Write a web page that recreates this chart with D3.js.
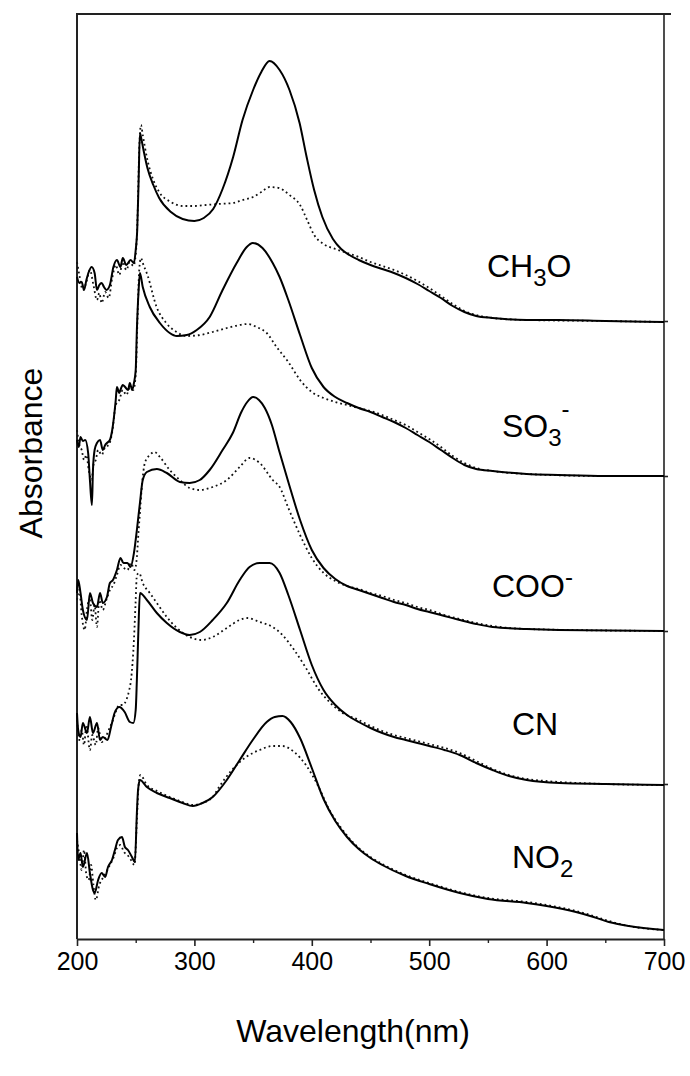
<!DOCTYPE html>
<html>
<head>
<meta charset="utf-8">
<script src="https://cdnjs.cloudflare.com/ajax/libs/d3/7.8.5/d3.min.js"></script>
<style>
  body { margin: 0; background: #fff; }
  svg { font-family: "Liberation Sans", Arial, sans-serif; }
  .tick text { font-size: 25px; fill: #000; }
</style>
</head>
<body>
<svg></svg>
<script>
//Data (wavelength nm, offset absorbance)
const xTicks = [200, 300, 400, 500, 600, 700];
const xMinorTicks = [250, 350, 450, 550, 650];
const baselines = [6.18, 4.63, 3.08, 1.55];

const ch3oSolid = [[200,6.62],[202,6.56],[204,6.57],[206,6.49],[208,6.59],[210,6.67],[212.5,6.72],[215,6.66],[217,6.49],[219,6.54],[221,6.56],[223,6.52],[225,6.49],[228,6.54],[231,6.72],[234,6.79],[237,6.72],[239,6.81],[242,6.74],[245.6,6.79],[248.5,6.76],[250,6.89],[251.3,7.09],[252.5,7.59],[253.6,8.06],[255,7.99],[257,7.87],[260,7.71],[265,7.54],[270,7.41],[280,7.27],[290,7.20],[300,7.18],[308,7.21],[316,7.30],[324,7.50],[333,7.82],[341,8.19],[350,8.49],[357,8.67],[364,8.78],[372.6,8.69],[381,8.49],[389.6,8.16],[395.6,7.82],[402,7.49],[409,7.22],[418,7.00],[425,6.90],[432,6.84],[440,6.79],[450,6.74],[460,6.70],[470,6.66],[480,6.61],[490,6.55],[500,6.48],[510,6.41],[520,6.33],[530,6.27],[540,6.23],[554,6.21],[583,6.19],[610,6.19],[650,6.18],[700,6.17]];
const ch3oDotted = [[200,6.77],[202,6.64],[205,6.49],[208,6.57],[211,6.69],[214,6.54],[217,6.39],[219,6.46],[221,6.36],[224,6.47],[227,6.41],[230,6.61],[233,6.74],[236,6.64],[239,6.77],[242,6.69],[245,6.77],[248,6.73],[250,6.84],[251.5,7.19],[253,7.89],[254.5,8.14],[256,8.04],[260,7.79],[265,7.59],[270,7.47],[280,7.37],[290,7.33],[300,7.33],[310,7.34],[320,7.35],[333,7.36],[341,7.39],[350,7.42],[357,7.47],[364,7.52],[372,7.51],[381,7.44],[390,7.34],[396,7.19],[402,7.04],[410,6.95],[420,6.90],[430,6.86],[440,6.82],[450,6.77],[460,6.73],[470,6.69],[480,6.64],[490,6.58],[500,6.51],[510,6.43],[520,6.35],[530,6.28],[540,6.24],[554,6.21],[583,6.19],[650,6.18],[700,6.17]];

const so3Solid = [[200,4.99],[201.5,4.92],[203,5.02],[205,4.98],[207,4.99],[209.5,4.86],[211,4.59],[212.7,4.34],[213.6,4.69],[215,4.89],[217,4.96],[219.6,4.99],[222,4.89],[224,4.94],[225.5,4.96],[228,4.99],[230,5.09],[233,5.39],[234,5.52],[236,5.46],[237,5.49],[239,5.54],[241,5.52],[243.5,5.49],[245,5.56],[247,5.49],[248.5,5.56],[250,5.69],[251,6.09],[252.5,6.49],[253.6,6.66],[256,6.52],[262,6.32],[270.6,6.16],[279,6.06],[285,6.03],[293.5,6.04],[302,6.09],[313,6.22],[324,6.49],[336,6.76],[344.6,6.92],[349.7,6.96],[358,6.91],[366.7,6.76],[372.6,6.62],[380,6.39],[390,6.04],[400,5.71],[410,5.52],[420,5.42],[430,5.36],[440,5.31],[450,5.27],[460,5.22],[470,5.17],[480,5.11],[490,5.04],[500,4.97],[510,4.89],[520,4.81],[530,4.74],[540,4.70],[554,4.68],[583,4.65],[610,4.64],[650,4.63],[700,4.63]];
const so3Dotted = [[200,5.09],[202,4.94],[204,4.89],[206,4.79],[208,4.84],[210,4.69],[212.5,4.59],[214,4.74],[216,4.79],[218,4.89],[221,4.84],[224,4.92],[227,4.94],[230,5.07],[233,5.34],[236,5.39],[239,5.49],[242,5.44],[245,5.51],[248,5.49],[250,5.64],[251.5,6.19],[253,6.69],[254.5,6.81],[256,6.76],[260,6.64],[267.8,6.32],[276,6.16],[284.8,6.07],[293,6.03],[304.6,6.04],[315.6,6.07],[327.6,6.11],[338.6,6.14],[345.4,6.15],[353,6.12],[361.6,6.06],[370,5.92],[380,5.77],[390,5.59],[400,5.47],[410,5.41],[420,5.37],[430,5.34],[440,5.31],[450,5.28],[460,5.24],[470,5.19],[480,5.14],[490,5.07],[500,5.00],[510,4.92],[520,4.83],[530,4.76],[540,4.71],[554,4.68],[583,4.65],[650,4.63],[700,4.63]];

const cooSolid = [[200,3.46],[201,3.59],[203,3.46],[205,3.29],[208.5,3.19],[211,3.46],[213.6,3.36],[217,3.32],[219.6,3.46],[222,3.36],[225.5,3.42],[228,3.56],[230.6,3.59],[234,3.69],[237,3.81],[239.6,3.76],[243,3.76],[245.6,3.72],[248.5,3.86],[251,4.09],[253.6,4.36],[256,4.59],[259.5,4.67],[268,4.70],[276.5,4.66],[287.6,4.57],[296,4.56],[304.6,4.59],[313,4.69],[324,4.89],[332.7,5.06],[340,5.27],[345,5.37],[350,5.42],[355,5.39],[360,5.31],[366,5.14],[372,4.89],[380,4.57],[390,4.19],[400,3.89],[410,3.71],[420,3.60],[430,3.53],[440,3.49],[450,3.45],[460,3.41],[470,3.37],[480,3.34],[490,3.30],[500,3.27],[513,3.23],[526,3.19],[540,3.15],[554,3.12],[583,3.10],[610,3.09],[700,3.08]];
const cooDotted = [[200,3.39],[202,3.49],[204,3.24],[206.5,3.09],[209,3.34],[211,3.39],[213,3.19],[215,3.34],[217,3.12],[219,3.39],[222,3.29],[225,3.39],[228,3.49],[231,3.54],[234,3.64],[237,3.74],[240,3.71],[243,3.69],[246,3.76],[249,3.69],[251,3.82],[252.5,4.09],[253.6,4.26],[255,4.49],[257.8,4.76],[262,4.84],[266,4.87],[270.6,4.82],[279,4.69],[287.6,4.59],[296,4.51],[304.6,4.49],[315.6,4.52],[327.6,4.59],[338.6,4.72],[347,4.81],[355.6,4.76],[366.7,4.59],[372.6,4.52],[380,4.31],[390,4.04],[400,3.81],[410,3.66],[420,3.58],[430,3.53],[440,3.50],[450,3.46],[460,3.43],[470,3.39],[480,3.36],[490,3.32],[500,3.29],[513,3.24],[526,3.20],[540,3.16],[554,3.13],[583,3.10],[700,3.08]];

const cnSolid = [[200,2.26],[201,2.09],[203,2.02],[205,2.16],[208.5,2.06],[211,2.22],[213.6,2.06],[217,2.16],[219.6,1.99],[222,2.02],[226,1.99],[229,2.12],[232,2.26],[236,2.32],[240.6,2.27],[245,2.17],[248,2.16],[250,2.29],[251,2.59],[252.3,3.09],[253.6,3.46],[259.5,3.39],[268,3.26],[276.5,3.16],[287.6,3.07],[296,3.04],[304.6,3.07],[315.6,3.19],[327.6,3.36],[338.6,3.59],[347,3.72],[355.6,3.76],[364,3.76],[372.6,3.66],[380,3.44],[390,3.09],[400,2.74],[410,2.49],[420,2.34],[430,2.24],[440,2.17],[450,2.11],[460,2.06],[470,2.02],[480,1.99],[490,1.96],[500,1.93],[513,1.89],[526,1.84],[540,1.76],[554,1.69],[568,1.63],[583,1.59],[611,1.56],[650,1.55],[700,1.54]];
const cnDotted = [[200,2.19],[202,1.99],[204,2.09],[206,1.94],[208,2.14],[211,1.89],[213,2.04],[216,1.94],[218,2.11],[221,1.97],[224,2.01],[227,2.09],[230,2.17],[233,2.27],[236,2.34],[239,2.34],[242,2.39],[244.5,2.49],[246,2.59],[248.5,2.99],[250,3.39],[251,3.64],[253,3.66],[256,3.56],[262,3.46],[268,3.36],[276.5,3.22],[285,3.11],[296,3.02],[306,2.99],[315.6,3.02],[327.6,3.11],[338.6,3.19],[345,3.21],[355.6,3.17],[366.7,3.12],[375,3.04],[385,2.89],[395,2.71],[405,2.51],[415,2.37],[425,2.27],[440,2.19],[450,2.13],[460,2.08],[470,2.04],[480,2.01],[490,1.98],[500,1.95],[513,1.91],[526,1.86],[540,1.78],[554,1.70],[568,1.64],[583,1.60],[650,1.55],[700,1.54]];

const no2Solid = [[200,1.06],[201,0.79],[203,0.86],[205,0.72],[208.5,0.86],[211,0.66],[213.6,0.49],[215,0.46],[218,0.59],[221,0.66],[224,0.62],[226.4,0.72],[229.8,0.79],[232.3,0.89],[234.9,0.99],[238.3,1.02],[240.8,0.92],[243.4,0.89],[246.8,0.82],[249.3,0.77],[251,1.26],[252,1.49],[253.6,1.59],[259.5,1.52],[268,1.46],[279,1.41],[290,1.36],[298.6,1.33],[307,1.36],[315.6,1.42],[327.6,1.59],[338.6,1.79],[349.7,1.99],[361.6,2.17],[368.4,2.22],[375,2.23],[382,2.17],[390,2.01],[400,1.71],[410,1.40],[420,1.18],[430,1.02],[440,0.90],[450,0.81],[460,0.74],[480,0.63],[500,0.55],[526,0.46],[550,0.40],[583,0.36],[600,0.33],[625,0.27],[640,0.22],[653,0.17],[670,0.13],[700,0.09]];
const no2Dotted = [[200,0.99],[202,0.84],[204,0.69],[206,0.89],[208,0.64],[210,0.59],[212,0.74],[214,0.54],[216,0.39],[219,0.54],[222,0.61],[225,0.67],[228,0.74],[231,0.81],[234,0.91],[237,0.94],[240,0.87],[243,0.84],[246,0.79],[249,0.74],[251,1.19],[252.5,1.54],[254,1.64],[259.5,1.54],[268,1.48],[279,1.42],[290,1.37],[298.6,1.34],[307,1.36],[315.6,1.42],[321,1.52],[332,1.69],[344,1.82],[355.6,1.89],[366.7,1.93],[375,1.93],[385,1.87],[395,1.74],[405,1.54],[415,1.29],[425,1.11],[440,0.91],[450,0.82],[460,0.75],[480,0.64],[500,0.56],[526,0.47],[550,0.41],[583,0.37],[600,0.34],[625,0.28],[640,0.23],[653,0.18],[670,0.13],[700,0.09]];

const seriesNames = ["CH3O", "SO3-", "COO-", "CN", "NO2"];
const solidSeries = [ch3oSolid, so3Solid, cooSolid, cnSolid, no2Solid];
const dottedSeries = [ch3oDotted, so3Dotted, cooDotted, cnDotted, no2Dotted];

const w = 690;
const h = 1076;
const mLeft = 77, mRight = 664, mTop = 14, mBottom = 939;

const svg = d3.select("svg")
              .attr("width", w)
              .attr("height", h);

//Scales
const xScale = d3.scaleLinear()
                 .domain([200, 700])
                 .range([mLeft, mRight]);
const yScale = d3.scaleLinear()
                 .domain([0, 9.25])
                 .range([mBottom, mTop]);

const line = d3.line()
               .x((d) => xScale(d[0]))
               .y((d) => yScale(d[1]))
               .curve(d3.curveMonotoneX);

//Frame
svg.append("line").attr("x1", mLeft - 1).attr("x2", mRight + 7).attr("y1", mTop).attr("y2", mTop)
   .attr("stroke", "#222").attr("stroke-width", 2);
svg.append("line").attr("x1", mLeft).attr("x2", mLeft).attr("y1", mTop).attr("y2", mBottom)
   .attr("stroke", "#222").attr("stroke-width", 2);
svg.append("line").attr("x1", mRight).attr("x2", mRight).attr("y1", mTop).attr("y2", mBottom)
   .attr("stroke", "#222").attr("stroke-width", 1.6);

//Right side ticks at each baseline
svg.append("g")
   .attr("transform", `translate(${mRight}, 0)`)
   .call(d3.axisRight(yScale).tickValues(baselines).tickSize(4).tickFormat(""))
   .call((g) => g.select(".domain").remove())
   .selectAll("line").attr("stroke", "#222").attr("stroke-width", 1.6);

//X Axis
const xAxis = svg.append("g")
                 .attr("transform", `translate(0, ${mBottom})`)
                 .call(d3.axisBottom(xScale).tickValues(xTicks).tickSize(7).tickSizeOuter(0).tickPadding(6));
xAxis.select(".domain").attr("stroke", "#222").attr("stroke-width", 2);
xAxis.selectAll("line").attr("stroke", "#222").attr("stroke-width", 1.6);
xAxis.selectAll("text").attr("font-family", "Liberation Sans, Arial, sans-serif");

svg.append("g")
   .attr("transform", `translate(0, ${mBottom})`)
   .call(d3.axisBottom(xScale).tickValues(xMinorTicks).tickSize(4).tickFormat(""))
   .call((g) => g.select(".domain").remove())
   .selectAll("line").attr("stroke", "#222").attr("stroke-width", 1.4);

//Spectra
svg.append("g")
   .selectAll("path")
   .data(dottedSeries)
   .enter()
   .append("path")
   .attr("d", line)
   .attr("fill", "none")
   .attr("stroke", "#111")
   .attr("stroke-width", 1.8)
   .attr("stroke-dasharray", "1.8,3");

svg.append("g")
   .selectAll("path")
   .data(solidSeries)
   .enter()
   .append("path")
   .attr("d", line)
   .attr("fill", "none")
   .attr("stroke", "#000")
   .attr("stroke-width", 2)
   .attr("stroke-linejoin", "round");

//Series labels
const labelPos = [[487, 277], [502, 437], [492, 597], [512, 735], [512, 868]];
const labelParts = [
  [["CH", 0, 32], ["3", 9, 24], ["O", -9, 32]],
  [["SO", 0, 32], ["3", 9, 24], ["-", -29, 24]],
  [["COO", 0, 32], ["-", -12, 24]],
  [["CN", 0, 32]],
  [["NO", 0, 32], ["2", 9, 24]]
];
labelParts.forEach((parts, i) => {
  const t = svg.append("text")
               .attr("x", labelPos[i][0])
               .attr("y", labelPos[i][1])
               .attr("fill", "#000");
  parts.forEach((p) => {
    t.append("tspan").attr("dy", p[1]).attr("font-size", p[2]).text(p[0]);
  });
});

//Axis labels
svg.append("text")
   .attr("transform", "translate(42, 453) rotate(-90)")
   .attr("text-anchor", "middle")
   .attr("font-size", 32)
   .text("Absorbance");

svg.append("text")
   .attr("x", 353)
   .attr("y", 1042)
   .attr("text-anchor", "middle")
   .attr("font-size", 32)
   .text("Wavelength(nm)");
</script>
</body>
</html>
